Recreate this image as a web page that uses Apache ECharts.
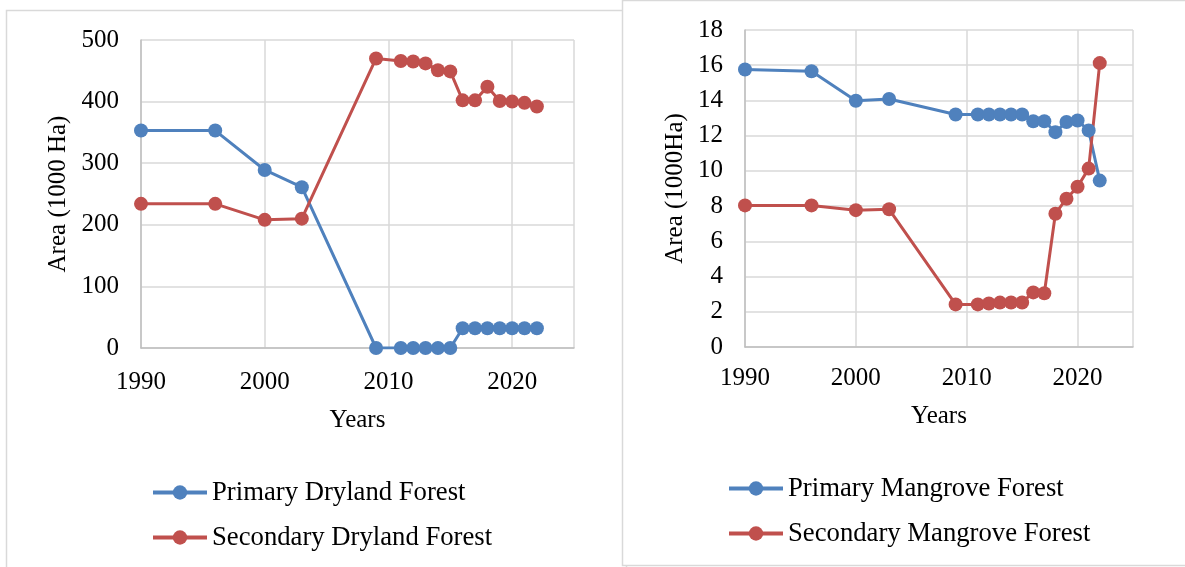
<!DOCTYPE html>
<html><head><meta charset="utf-8">
<script src="https://cdn.jsdelivr.net/npm/echarts@6/dist/echarts.min.js"></script>
<style>html,body{margin:0;padding:0;background:#fff}#c{width:1185px;height:567px}</style>
</head><body><div id="c"></div>
<script>
const years = [1990, 1996, 2000, 2003, 2009, 2011, 2012, 2013, 2014, 2015, 2016, 2017, 2018, 2019, 2020, 2021, 2022];
const primaryDryland = [353, 353, 289, 261, 0, 0, 0, 0, 0, 0, 32, 32, 32, 32, 32, 32, 32];
const secondaryDryland = [234, 234, 208, 210, 470, 466, 465, 462, 451, 449, 402, 402, 424, 401, 400, 398, 392];
const primaryMangrove = [15.76, 15.66, 13.98, 14.08, 13.2, 13.2, 13.2, 13.2, 13.2, 13.2, 12.82, 12.82, 12.2, 12.78, 12.86, 12.3, 9.45];
const secondaryMangrove = [8.04, 8.04, 7.77, 7.82, 2.42, 2.42, 2.47, 2.52, 2.53, 2.53, 3.1, 3.05, 7.57, 8.42, 9.1, 10.13, 16.12];
const names = ['Primary Dryland Forest', 'Secondary Dryland Forest', 'Primary Mangrove Forest', 'Secondary Mangrove Forest'];

const BLUE = '#4f81bd', RED = '#c0504d';
const FONT = 'Liberation Serif';
const pair = (xs, ys) => xs.map((x, i) => [x, ys[i]]);

function xAxis(gi, margin, gap) {
  return {
    type: 'value', gridIndex: gi, min: 1990, max: 2025, interval: 10,
    name: 'Years', nameLocation: 'middle', nameGap: gap,
    nameTextStyle: { fontFamily: FONT, fontSize: 25, color: '#000' },
    axisLine: { show: true, lineStyle: { color: '#bfbfbf', width: 1.5 } },
    axisTick: { show: false },
    axisLabel: { fontFamily: FONT, fontSize: 25, color: '#000', margin: margin, showMaxLabel: false, formatter: v => String(v) },
    splitLine: { show: true, lineStyle: { color: '#d9d9d9', width: 1.5 } }
  };
}
function yAxis(gi, max, interval, name, gap) {
  return {
    type: 'value', gridIndex: gi, min: 0, max: max, interval: interval,
    name: name, nameLocation: 'middle', nameGap: gap, nameRotate: 90,
    nameTextStyle: { fontFamily: FONT, fontSize: 25, color: '#000' },
    axisLine: { show: true, lineStyle: { color: '#bfbfbf', width: 1.5 } },
    axisTick: { show: false },
    axisLabel: { fontFamily: FONT, fontSize: 25, color: '#000', margin: 22 },
    splitLine: { show: true, lineStyle: { color: '#d9d9d9', width: 1.5 } }
  };
}
function line(name, gi, data, color) {
  return {
    type: 'line', name: name, xAxisIndex: gi, yAxisIndex: gi, data: data,
    symbol: 'circle', symbolSize: 14, showAllSymbol: true,
    lineStyle: { color: color, width: 3 }, itemStyle: { color: color }
  };
}
function legend(data, left, top) {
  return {
    data: data, orient: 'vertical', left: left, top: top, padding: 0,
    itemWidth: 54, itemHeight: 18, itemGap: 14,
    lineStyle: { width: 4 },
    textStyle: { fontFamily: FONT, fontSize: 26.7, color: '#000', lineHeight: 31 }
  };
}

const chart = echarts.init(document.getElementById('c'), null, { renderer: 'canvas' });
chart.setOption({
  backgroundColor: '#fff',
  animation: false,
  graphic: [
    { type: 'rect', z: -10, silent: true, shape: { x: 6.5, y: 10.5, width: 620, height: 600 }, style: { fill: '#fff', stroke: '#d9d9d9', lineWidth: 1.5 } },
    { type: 'rect', z: -9, silent: true, shape: { x: 622.5, y: 0.5, width: 570, height: 565 }, style: { fill: '#fff', stroke: '#d9d9d9', lineWidth: 1.5 } }
  ],
  grid: [
    { left: 141, top: 40, width: 433, height: 308 },
    { left: 745, top: 30, width: 388, height: 317 }
  ],
  xAxis: [xAxis(0, 22, 60), xAxis(1, 19, 57)],
  yAxis: [yAxis(0, 500, 100, 'Area (1000 Ha)', 70), yAxis(1, 18, 2, 'Area (1000Ha)', 57)],
  legend: [
    legend([names[0], names[1]], 151, 477),
    legend([names[2], names[3]], 727, 473)
  ],
  series: [
    line(names[0], 0, pair(years, primaryDryland), BLUE),
    line(names[1], 0, pair(years, secondaryDryland), RED),
    line(names[2], 1, pair(years, primaryMangrove), BLUE),
    line(names[3], 1, pair(years, secondaryMangrove), RED)
  ]
});
</script></body></html>
